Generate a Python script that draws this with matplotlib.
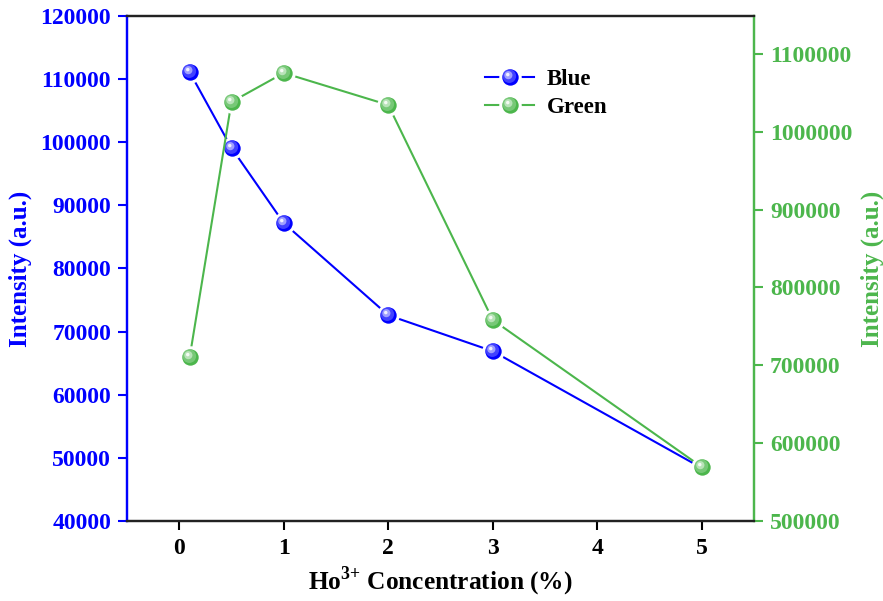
import matplotlib
matplotlib.use("Agg")
import matplotlib.pyplot as plt
from matplotlib.markers import MarkerStyle
from matplotlib.transforms import Affine2D
from matplotlib.ticker import FixedFormatter, ScalarFormatter
from matplotlib.legend_handler import HandlerTuple

plt.rcParams['font.family'] = ['Liberation Serif', 'DejaVu Serif']
plt.rcParams['font.weight'] = 'bold'
plt.rcParams['mathtext.fontset'] = 'custom'
plt.rcParams['mathtext.rm'] = 'Liberation Serif:bold'
plt.rcParams['mathtext.bf'] = 'Liberation Serif:bold'

# Data
concentration = [0.1, 0.5, 1, 2, 3, 5]
blue_intensity = [111100, 99100, 87200, 72600, 66900, 48400]
green_intensity = [710700, 1038400, 1075600, 1034500, 758300, 569400]
x_ticks = [0, 1, 2, 3, 4, 5]
left_ticks = list(range(40000, 120001, 10000))
right_ticks = list(range(500000, 1100001, 100000))

BLUE = '#0000ff'
GREEN = '#4cb64c'
BLUE_HI = ['#4d4dff', '#b0b0ff', '#ffffff']
GREEN_HI = ['#7fcc7f', '#c4e8c4', '#ffffff']

fig = plt.figure(figsize=(8.83, 6.01), dpi=100)
ax = fig.add_axes([127/883, 1-521/601, (754-127)/883, (521-16)/601])
ax2 = ax.twinx()

MS = 14


def hi_marker(scale, dx, dy):
    return MarkerStyle('o', transform=Affine2D().scale(scale).translate(dx, dy))


def sphere(a, x, y, color, his, label=None, z=3):
    base, = a.plot(x, y, '-', color=color, lw=1.5, marker='o', ms=MS,
                   mfc=color, mec='white', mew=2.2, zorder=z, label=label)
    layers = [(0.7, -0.06, 0.07), (0.42, -0.11, 0.12), (0.18, -0.14, 0.15)]
    hs = []
    for (s, dx, dy), c in zip(layers, his):
        h, = a.plot(x, y, ls='none', marker=hi_marker(s, dx, dy), ms=MS,
                    mfc=c, mec='none', alpha=0.85, zorder=z + 0.1)
        hs.append(h)
    return base, hs

b_base, b_hs = sphere(ax, concentration, blue_intensity, BLUE, BLUE_HI, 'Blue', z=3)
g_base, g_hs = sphere(ax2, concentration, green_intensity, GREEN, GREEN_HI, 'Green', z=3)

ax.set_xlim(-0.5, 5.5)
ax.set_ylim(40000, 120000)
ax2.set_ylim(500000, 1148800)
ax.set_xticks(x_ticks)
ax.set_yticks(left_ticks)
ax2.set_yticks(right_ticks)
for a in (ax, ax2):
    f = ScalarFormatter(useOffset=False)
    f.set_scientific(False)
    a.yaxis.set_major_formatter(f)

fs = 17
ax.tick_params(axis='x', direction='out', length=6.5, width=1.5, pad=6,
               labelsize=fs, colors='black')
ax.tick_params(axis='y', direction='out', length=6.5, width=1.5, pad=5,
               labelsize=fs, colors=BLUE)
ax2.tick_params(axis='y', direction='out', length=6.5, width=1.5, pad=5,
                labelsize=fs, colors=GREEN)
for lab in ax.get_xticklabels() + ax.get_yticklabels() + ax2.get_yticklabels():
    lab.set_fontweight('bold')

for a in (ax, ax2):
    a.spines['bottom'].set_color('#222222')
    a.spines['top'].set_color('#222222')
    a.spines['left'].set_color(BLUE)
    a.spines['right'].set_color(GREEN)
    for s in a.spines.values():
        s.set_linewidth(1.6)

ax.set_xlabel(r'Ho$^{\text{3+}}$ Concentration (%)', fontsize=18.3, fontweight='bold', labelpad=4)
ax.set_ylabel('Intensity (a.u.)', fontsize=18, fontweight='bold', color=BLUE, labelpad=6)
ax2.set_ylabel('Intensity (a.u.)', fontsize=18, fontweight='bold', color=GREEN, labelpad=6)

handles = [tuple([b_base] + b_hs), tuple([g_base] + g_hs)]
leg = ax.legend(handles, ['Blue', 'Green'], loc='upper left',
                bbox_to_anchor=(0.571, 0.895), frameon=False,
                handlelength=2.15, handletextpad=0.55, labelspacing=0.3,
                borderpad=0, borderaxespad=0,
                handler_map={tuple: HandlerTuple(ndivide=1)},
                prop={'weight': 'bold', 'size': 16.5})

fig.savefig('out.png', dpi=100)
